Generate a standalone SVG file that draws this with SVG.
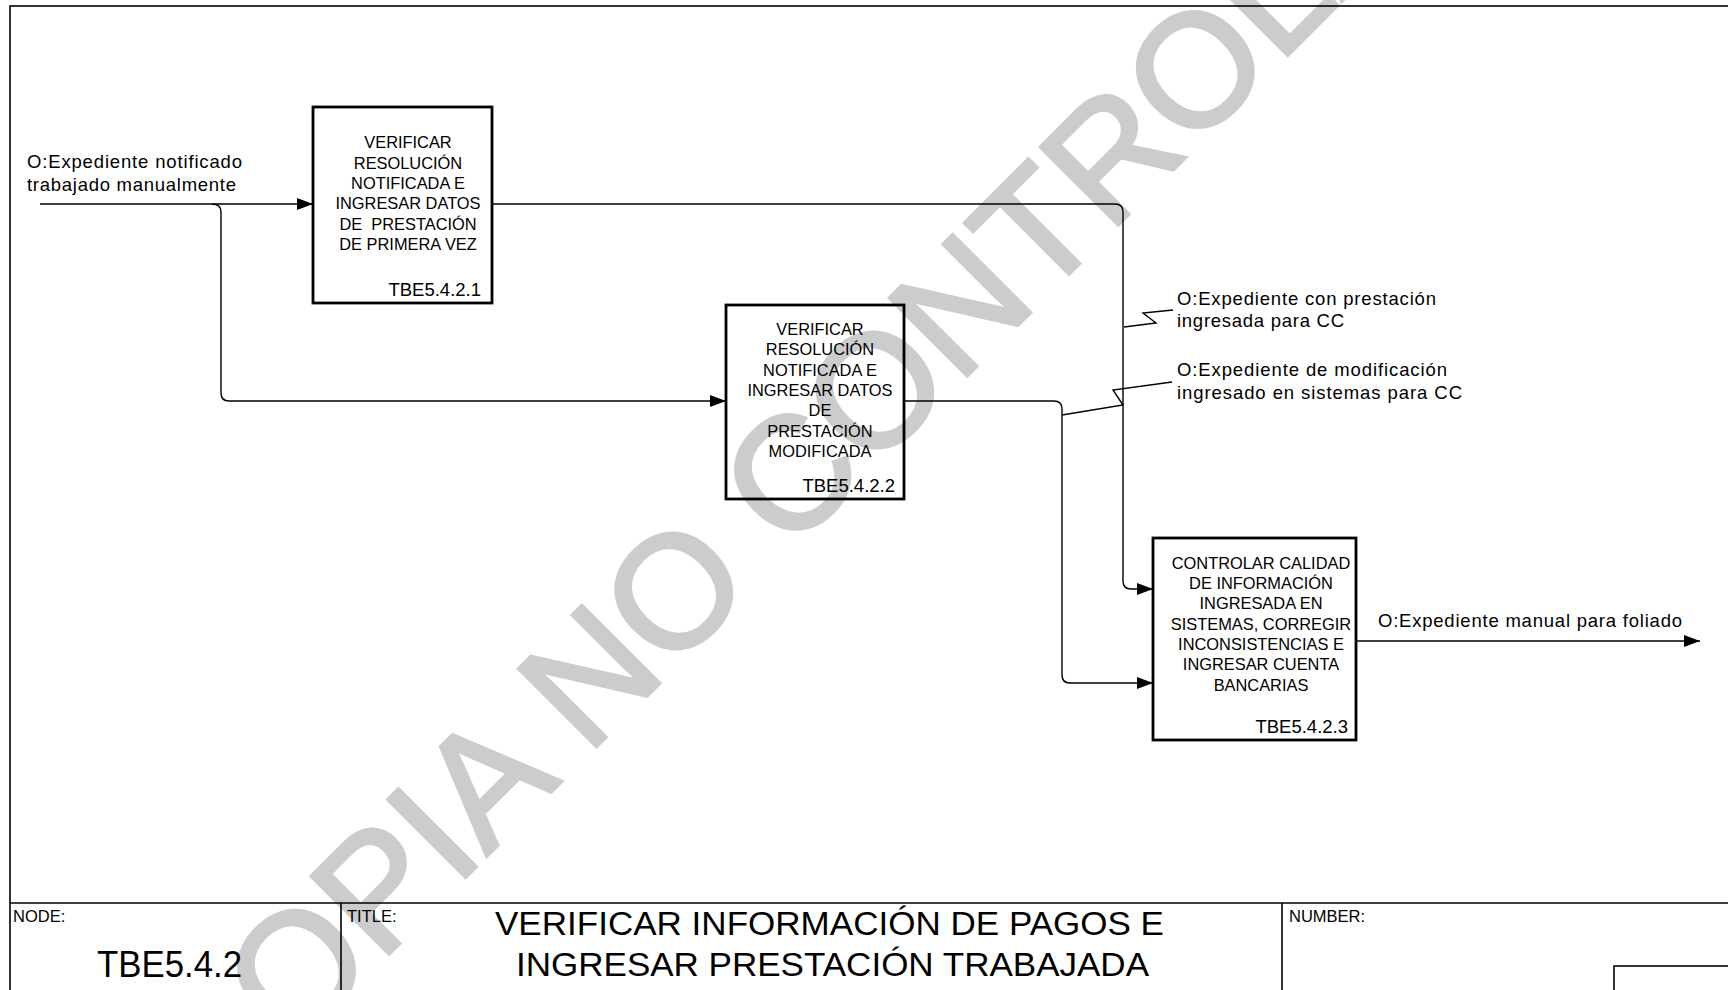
<svg xmlns="http://www.w3.org/2000/svg" width="1728" height="990" viewBox="0 0 1728 990">
<style>
.frame{fill:none;stroke:#000;stroke-width:1.6}
.box{fill:none;stroke:#000;stroke-width:2.8}
.conn{fill:none;stroke:#000;stroke-width:1.4}
.t{font-family:"Liberation Sans",Arial,sans-serif;fill:#000}
.bt{font-size:16.4px;text-anchor:middle}
.id{font-size:18.5px;text-anchor:end}
.lbl{font-size:18.5px}
.hdr{font-size:16.5px}
.wm{font-family:"Liberation Sans",Arial,sans-serif;font-size:160px;fill:#cccccc;stroke:#cccccc;stroke-width:3.5}
</style>
<defs>
<marker id="arr" markerWidth="16" markerHeight="12" refX="16" refY="6" orient="auto" markerUnits="userSpaceOnUse">
<path d="M0,0 L16,6 L0,12 Z" fill="#000"/>
</marker>
</defs>
<rect x="0" y="0" width="1728" height="990" fill="#fff"/>
<text class="wm" x="210" y="1133" transform="rotate(-45 210 1133)">COPIA NO CONTROLADA</text>
<g id="frame">
<rect class="frame" x="10" y="6" width="1740" height="1000"/>
<line class="frame" x1="10" y1="903" x2="1728" y2="903"/>
<line class="frame" x1="341" y1="903" x2="341" y2="990"/>
<line class="frame" x1="1282" y1="903" x2="1282" y2="990"/>
<rect class="frame" x="1614" y="966" width="140" height="40"/>
<text class="t hdr" x="13" y="922">NODE:</text>
<text class="t hdr" x="347" y="922">TITLE:</text>
<text class="t hdr" x="1289" y="922">NUMBER:</text>
<text class="t" x="97" y="977" font-size="36" textLength="145" lengthAdjust="spacingAndGlyphs">TBE5.4.2</text>
<text class="t" x="495" y="935" font-size="34" textLength="669" lengthAdjust="spacingAndGlyphs">VERIFICAR INFORMACIÓN DE PAGOS E</text>
<text class="t" x="516" y="976" font-size="34" textLength="633" lengthAdjust="spacingAndGlyphs">INGRESAR PRESTACIÓN TRABAJADA</text>
</g>
<g id="connectors">
<path class="conn" d="M40 204 H313" marker-end="url(#arr)"/>
<path class="conn" d="M212 204 Q221 204 221 212 V393 Q221 401 229 401 H726" marker-end="url(#arr)"/>
<path class="conn" d="M492 204 H1115 Q1123 204 1123 212 V581 Q1123 589 1131 589 H1153" marker-end="url(#arr)"/>
<path class="conn" d="M904 401 H1054 Q1062 401 1062 409 V675 Q1062 683 1070 683 H1153" marker-end="url(#arr)"/>
<path class="conn" d="M1356 641 H1700" marker-end="url(#arr)"/>
<path class="conn" d="M1124 327 L1156 323 L1143 313 L1173 310"/>
<path class="conn" d="M1062 415 L1123 405 L1113 390 L1172 382"/>
<text class="t lbl" x="27" y="168" textLength="215" lengthAdjust="spacing">O:Expediente notificado</text>
<text class="t lbl" x="27" y="191" textLength="209" lengthAdjust="spacing">trabajado manualmente</text>
<text class="t lbl" x="1177" y="305" textLength="259" lengthAdjust="spacing">O:Expediente con prestación</text>
<text class="t lbl" x="1177" y="327" textLength="167" lengthAdjust="spacing">ingresada para CC</text>
<text class="t lbl" x="1177" y="376" textLength="270" lengthAdjust="spacing">O:Expediente de modificación</text>
<text class="t lbl" x="1177" y="399" textLength="285" lengthAdjust="spacing">ingresado en sistemas para CC</text>
<text class="t lbl" x="1378" y="627" textLength="304" lengthAdjust="spacing">O:Expediente manual para foliado</text>
</g>
<g id="node-TBE5.4.2.1">
<rect class="box" x="313" y="107" width="179" height="196"/>
<text class="t bt" x="408" y="148">VERIFICAR</text>
<text class="t bt" x="408" y="168.5">RESOLUCIÓN</text>
<text class="t bt" x="408" y="189">NOTIFICADA E</text>
<text class="t bt" x="408" y="209">INGRESAR DATOS</text>
<text class="t bt" x="408" y="229.5" xml:space="preserve">DE  PRESTACIÓN</text>
<text class="t bt" x="408" y="250">DE PRIMERA VEZ</text>
<text class="t id" x="481" y="296">TBE5.4.2.1</text>
</g>
<g id="node-TBE5.4.2.2">
<rect class="box" x="726" y="305" width="178" height="194"/>
<text class="t bt" x="820" y="335">VERIFICAR</text>
<text class="t bt" x="820" y="355">RESOLUCIÓN</text>
<text class="t bt" x="820" y="375.5">NOTIFICADA E</text>
<text class="t bt" x="820" y="396">INGRESAR DATOS</text>
<text class="t bt" x="820" y="416">DE</text>
<text class="t bt" x="820" y="436.5">PRESTACIÓN</text>
<text class="t bt" x="820" y="457">MODIFICADA</text>
<text class="t id" x="895" y="492">TBE5.4.2.2</text>
</g>
<g id="node-TBE5.4.2.3">
<rect class="box" x="1153" y="538" width="203" height="202"/>
<text class="t bt" x="1261" y="568.5">CONTROLAR CALIDAD</text>
<text class="t bt" x="1261" y="589">DE INFORMACIÓN</text>
<text class="t bt" x="1261" y="609">INGRESADA EN</text>
<text class="t bt" x="1261" y="629.5">SISTEMAS, CORREGIR</text>
<text class="t bt" x="1261" y="650">INCONSISTENCIAS E</text>
<text class="t bt" x="1261" y="670">INGRESAR CUENTA</text>
<text class="t bt" x="1261" y="690.5">BANCARIAS</text>
<text class="t id" x="1348" y="733">TBE5.4.2.3</text>
</g>
</svg>
